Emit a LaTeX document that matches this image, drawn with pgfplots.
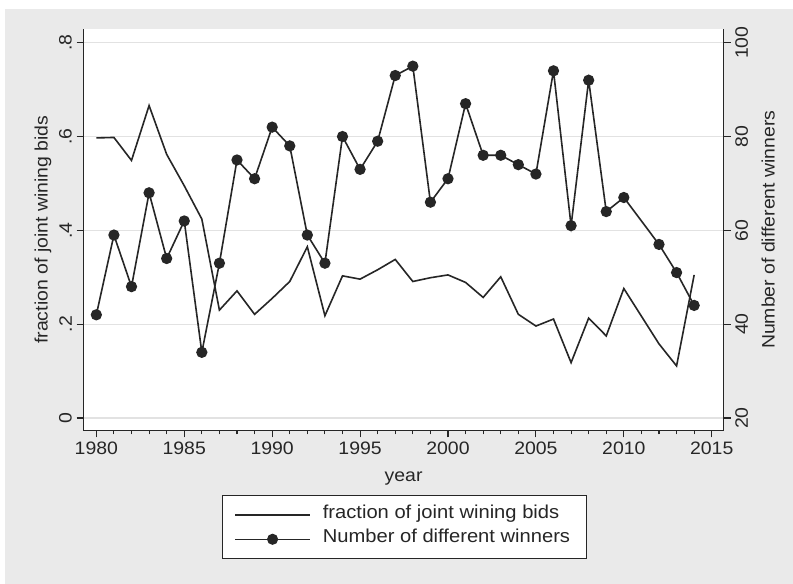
\documentclass[border=0pt]{standalone}
\usepackage{pgfplots}
\pgfplotsset{compat=1.18}
\usepackage{fontspec}
\setmainfont[FakeStretch=1.08]{Liberation Sans}
\definecolor{bggray}{RGB}{234,234,234}
\definecolor{gridgray}{RGB}{226,226,226}
\definecolor{ink}{RGB}{38,38,38}
\pgfplotstableread{
year frac
1980 0.597
1981 0.598
1982 0.549
1983 0.666
1984 0.562
1985 0.495
1986 0.424
1987 0.230
1988 0.271
1989 0.221
1990 0.255
1991 0.291
1992 0.365
1993 0.218
1994 0.303
1995 0.296
1996 0.316
1997 0.338
1998 0.291
1999 0.299
2000 0.305
2001 0.289
2002 0.257
2003 0.301
2004 0.221
2005 0.196
2006 0.211
2007 0.118
2008 0.213
2009 0.175
2010 0.276
2012 0.158
2013 0.111
2014 0.305
}\fractable
\pgfplotstableread{
year winners
1980 42
1981 59
1982 48
1983 68
1984 54
1985 62
1986 34
1987 53
1988 75
1989 71
1990 82
1991 78
1992 59
1993 53
1994 80
1995 73
1996 79
1997 93
1998 95
1999 66
2000 71
2001 87
2002 76
2003 76
2004 74
2005 72
2006 94
2007 61
2008 92
2009 64
2010 67
2012 57
2013 51
2014 44
}\wintable
\begin{document}
\begin{tikzpicture}
\useasboundingbox (0,0) rectangle (594.75pt,438pt);
\fill[white] (0,0) rectangle (594.75pt,438pt);
\fill[bggray] (3.75pt,0) rectangle (594.75pt,431.25pt);
\pgfplotsset{
  common/.style={
    at={(62.625pt,115.125pt)}, anchor=south west,
    scale only axis, width=480.15pt, height=301.125pt,
    xmin=1979.27, xmax=2015.68,
    tick align=outside,
    major tick length=5.25pt, minor tick length=3pt,
    every tick/.style={ink, line width=0.8pt},
    axis line style={ink, line width=1pt},
    tick label style={font=\fontsize{13.5}{16}\selectfont, text=black!85},
    label style={font=\fontsize{13.5}{16}\selectfont, text=black!85},
    /pgf/number format/assume math mode=true,
    /pgf/number format/1000 sep={},
  }
}
\begin{axis}[common,
  axis x line*=bottom, axis y line*=left,
  axis background/.style={fill=white},
  ymin=-0.0266, ymax=0.8292,
  ytick={0,0.2,0.4,0.6,0.8}, yticklabels={0,.2,.4,.6,.8},
  xtick={1980,1985,...,2015}, minor x tick num=4,
  ymajorgrids, grid style={gridgray, line width=1pt},
  yticklabel style={rotate=90, anchor=south},
  xlabel={year},
  xlabel style={at={(axis description cs:0.5,-0.1275)}, anchor=base},
  ylabel={fraction of joint wining bids},
  ylabel style={at={(axis description cs:-0.0562,0.5)}, anchor=base},
]
\addplot[ink, line width=1.2pt] table[x=year, y=frac] {\fractable};
\end{axis}
\begin{axis}[common,
  axis y line*=right, axis x line=none,
  ymin=17.34, ymax=102.92,
  ytick={20,40,60,80,100},
  yticklabel style={rotate=90, anchor=north},
  ylabel={Number of different winners},
  ylabel style={at={(axis description cs:1.0797,0.5)}, anchor=base},
  legend style={at={(axis description cs:0.501,-0.1607)}, anchor=north,
    draw=ink, line width=0.9pt, fill=white, inner xsep=9pt, inner ysep=6.5pt,
    row sep=2.25pt,
    /tikz/every odd column/.append style={column sep=6pt},
    font=\fontsize{14}{16}\selectfont,
    nodes={inner sep=3pt, text depth=0.25em, text height=0.75em, text=black!85}},
  legend cell align=left,
  legend image code/.code={\draw[line width=1.1pt, mark repeat=2,mark phase=2,#1] plot coordinates {(0pt,0pt) (28.1pt,0pt) (56.25pt,0pt)};},
]
\addlegendimage{ink, line width=1.1pt}
\addlegendentry{fraction of joint wining bids}
\addplot[ink, line width=1.2pt, mark=*, mark size=3.6pt, mark options={fill=ink, draw=ink}] table[x=year, y=winners] {\wintable};
\addlegendentry{Number of different winners}
\end{axis}
\end{tikzpicture}
\end{document}
